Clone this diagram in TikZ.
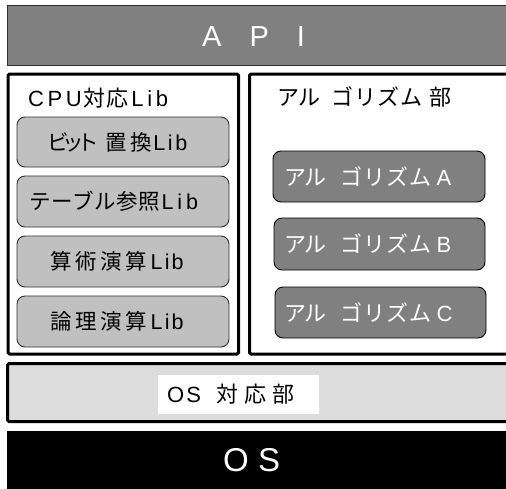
\documentclass[tikz,border=0pt]{standalone}
\usepackage{fontspec}
\setmainfont{Liberation Sans}
\newfontfamily\jp{Noto Sans CJK JP}
\makeatletter
% CJK characters, each centred in a box of fixed pitch
\newcommand\J[2]{{\jp\@tfor\jch:=#2\do{\makebox[#1][c]{\jch}}}}
\makeatother
% Latin text with letter spacing
\newcommand\E[2][0]{{\addfontfeature{LetterSpace=#1}#2}}
\definecolor{apigray}{HTML}{808080}
\definecolor{libgray}{HTML}{C0C0C0}
\definecolor{osgray}{HTML}{DCDCDC}
\definecolor{edge}{HTML}{303030}
\begin{document}
\begin{tikzpicture}[x=1pt,y=-1pt,
  frame/.style={draw=black,line width=3pt,rounded corners=1.5pt,fill=white},
  libbox/.style={draw=edge,line width=0.9pt,rounded corners=8pt,fill=libgray},
  algbox/.style={draw=black,line width=0.9pt,rounded corners=8pt,fill=apigray},
  lbl/.style={anchor=west,inner sep=0pt,text=black},
  wlbl/.style={anchor=west,inner sep=0pt,text=white}]
\useasboundingbox (0,0) rectangle (506,488);
% API
\draw[draw=edge,line width=1pt,fill=apigray] (7,5) rectangle (515,65);
\node[wlbl,font=\fontsize{29}{34}\selectfont] (api) at (202,36.5) {A\hspace{28pt}P\hspace{28pt}I};
% CPU frame
\draw[frame] (8,74) rectangle (238.5,354);
\node[lbl,font=\fontsize{22}{26}\selectfont] (cpu) at (28,98) {\E[16]{CPU}\hspace{1.2pt}\J{23pt}{対応}\hspace{2.4pt}\E[17]{Lib}};
\draw[libbox] (17,117) rectangle (229,167);
\draw[libbox] (17,176) rectangle (229,227);
\draw[libbox] (17,236) rectangle (229,287);
\draw[libbox] (17,296) rectangle (229,347);
\node[lbl,font=\fontsize{21.5}{25}\selectfont] (l1) at (51,142) {\J{15pt}{ビット}\hspace{8.25pt}\J{24.5pt}{置換}\E[12]{Lib}};
\node[lbl,font=\fontsize{21.5}{25}\selectfont] (l2) at (29,201.5) {\J{21.8pt}{テーブル参照}\hspace{1.6pt}\E[18]{Lib}};
\node[lbl,font=\fontsize{21.5}{25}\selectfont] (l3) at (48.5,261.5) {\J{25pt}{算術演算}\hspace{2pt}\E[10]{Lib}};
\node[lbl,font=\fontsize{21.5}{25}\selectfont] (l4) at (48.5,321.5) {\J{25pt}{論理演算}\hspace{2pt}\E[10]{Lib}};
% Algorithm frame
\draw[frame] (249.5,74) rectangle (520,354);
\node[lbl,font=\fontsize{22}{26}\selectfont] (alg) at (278,97) {\J{21pt}{アル}\hspace{11pt}\J{23pt}{ゴリズム}\hspace{5.5pt}\J{23pt}{部}};
\draw[algbox] (273,151) rectangle (485,202);
\draw[algbox] (274,218) rectangle (485,270);
\draw[algbox] (275,287) rectangle (486,338);
\node[wlbl,font=\fontsize{22}{26}\selectfont] (aa) at (285.5,176.5) {\J{20pt}{アル}\hspace{14pt}\J{23pt}{ゴリズム}\hspace{5pt}A};
\node[wlbl,font=\fontsize{22}{26}\selectfont] (ab) at (285.5,244) {\J{20pt}{アル}\hspace{14pt}\J{23pt}{ゴリズム}\hspace{5pt}B};
\node[wlbl,font=\fontsize{22}{26}\selectfont] (ac) at (285.5,312.5) {\J{20pt}{アル}\hspace{14pt}\J{23pt}{ゴリズム}\hspace{5pt}C};
% OS layer
\draw[frame,fill=osgray] (7.5,363.5) rectangle (520,421.5);
\fill[white] (158,375) rectangle (319,414);
\node[lbl,font=\fontsize{22}{26}\selectfont] (osl) at (167,394.5) {\E[10]{OS}\hspace{12pt}\J{28pt}{対応部}};
\fill[black] (7,431) rectangle (515,495);
\node[wlbl,font=\fontsize{33}{38}\selectfont] (os) at (223,460) {\E[28]{OS}};
\end{tikzpicture}
\end{document}
